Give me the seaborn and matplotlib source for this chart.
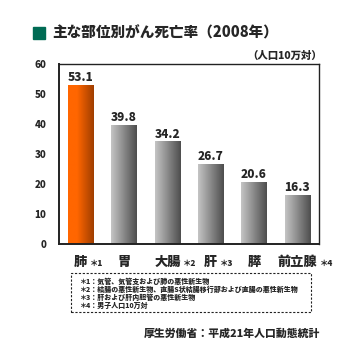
import numpy as np
import pandas as pd
import matplotlib
matplotlib.use("Agg")
import matplotlib.pyplot as plt
import seaborn as sns
from matplotlib.colors import LinearSegmentedColormap
from matplotlib.patches import Rectangle
from matplotlib.transforms import blended_transform_factory

# data
sites = ["肺", "胃", "大腸", "肝", "膵", "前立腺"]
rates = [53.1, 39.8, 34.2, 26.7, 20.6, 16.3]
notes = ["＊1", "", "＊2", "＊3", "", "＊4"]
footnotes = [
    "＊1：気管、気管支および肺の悪性新生物",
    "＊2：結腸の悪性新生物、直腸S状結腸移行部および直腸の悪性新生物",
    "＊3：肝および肝内胆管の悪性新生物",
    "＊4：男子人口10万対",
]
yticks = [0, 10, 20, 30, 40, 50, 60]

sns.set_style("white")
plt.rcParams["font.family"] = ["Noto Sans CJK JP", "DejaVu Sans"]
plt.rcParams["font.weight"] = "heavy"
W = 900

fig = plt.figure(figsize=(3.6, 3.6), dpi=100)
ax = fig.add_axes([59 / 360, 1 - 244 / 360, 260 / 360, 180 / 360])

df = pd.DataFrame({"site": sites, "rate": rates})
sns.barplot(data=df, x="site", y="rate", ax=ax, width=0.58, color="#999999",
            edgecolor="none", saturation=1)

orange = LinearSegmentedColormap.from_list("o", [(0, "#ff6600"), (0.35, "#ff6600"), (1, "#a03e00")])
gray = LinearSegmentedColormap.from_list("g", [(0, "#c4c4c4"), (1, "#4e4e4e")])
grad = np.linspace(0, 1, 64).reshape(1, -1)
for i, p in enumerate(ax.patches):
    x0, w, h = p.get_x(), p.get_width(), p.get_height()
    im = ax.imshow(grad, cmap=orange if i == 0 else gray, aspect="auto",
                   extent=(x0, x0 + w, 0, h), zorder=p.get_zorder() + 0.1)
    im.set_clip_path(p)
    ax.text(x0 + w / 2, h + 0.6, f"{rates[i]:.1f}", ha="center", va="bottom",
            fontsize=8.5, fontweight=W)

ax.set_xlim(-0.5, len(sites) - 0.5)
ax.set_ylim(0, 60)
ax.set_yticks(yticks)
ax.set_yticklabels([str(t) for t in yticks], fontsize=7, fontweight=W)
ax.set_xticks(range(len(sites)))
ax.set_xticklabels(sites, fontsize=9.5, fontweight=W)
ax.tick_params(axis="x", length=0, pad=8)
ax.tick_params(axis="y", length=0, pad=9)
ax.set_xticks(np.arange(0.5, len(sites) - 1, 1), minor=True)
ax.tick_params(axis="x", which="minor", direction="in", length=3, width=0.8, color="#333333")
ax.set_xlabel("")
ax.set_ylabel("")
for s in ax.spines.values():
    s.set_visible(True)
    s.set_color("#222222")
    s.set_linewidth(1.0)
ax.spines["left"].set_linewidth(1.4)
ax.spines["bottom"].set_linewidth(1.4)

# small asterisk marks after the site labels
tr = blended_transform_factory(ax.transData, fig.transFigure)
for i, (name, note) in enumerate(zip(sites, notes)):
    if note:
        ax.annotate(note, xy=(i, 1 - 263 / 360), xycoords=tr,
                    xytext=(len(name) * 4.8 + 1.5, 0), textcoords="offset points",
                    fontsize=6, fontweight=W, ha="left", va="center")

# title
fig.patches.append(Rectangle((33 / 360, 1 - 39 / 360), 12 / 360, 12 / 360,
                             transform=fig.transFigure, color="#006b54", figure=fig))
fig.text(52 / 360, 1 - 33 / 360, "主な部位別がん死亡率（2008年）", fontsize=10.5,
         fontweight=W, va="center", ha="left")
fig.text(322 / 360, 1 - 56 / 360, "（人口10万対）", fontsize=7.5, fontweight=W,
         va="center", ha="right")

# footnote box
fig.patches.append(Rectangle((71 / 360, 1 - 312 / 360), 240 / 360, 39 / 360,
                             transform=fig.transFigure, fill=False, edgecolor="#222222",
                             linestyle=(0, (2, 1.5)), linewidth=0.8, figure=fig))
for k, line in enumerate(footnotes):
    fig.text(79 / 360, 1 - (281 + k * 8.3) / 360, line, fontsize=5, fontweight=W,
             va="center", ha="left")

fig.text(320 / 360, 1 - 334 / 360, "厚生労働省：平成21年人口動態統計", fontsize=7.8,
         fontweight=W, va="center", ha="right")

fig.savefig("out.png", dpi=100)
